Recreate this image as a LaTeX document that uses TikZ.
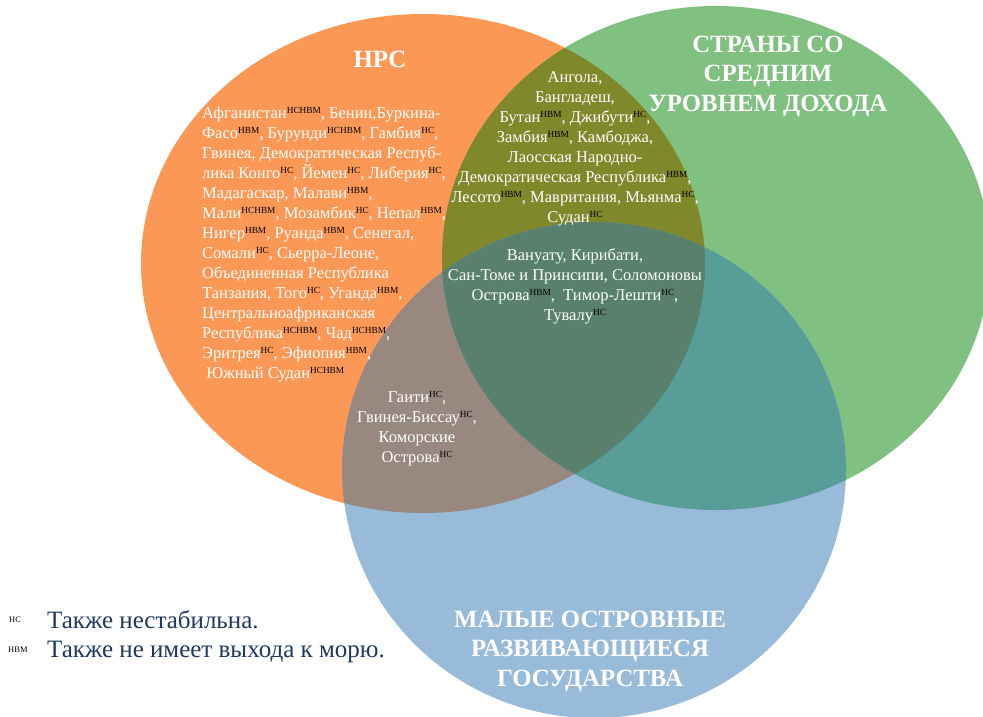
\documentclass[tikz,border=0pt]{standalone}
\usepackage{fontspec}
\setmainfont{Liberation Serif}
\definecolor{cOr}{RGB}{252,152,86}
\definecolor{cGr}{RGB}{128,192,128}
\definecolor{cBl}{RGB}{153,187,218}
\definecolor{cOG}{RGB}{128,136,44}
\definecolor{cOB}{RGB}{152,136,128}
\definecolor{cGB}{RGB}{88,157,152}
\definecolor{cOGB}{RGB}{88,128,108}
\definecolor{cNavy}{RGB}{31,56,100}
\newcommand\supNS{\textcolor{black}{\raisebox{5.5pt}{\fontsize{9.3}{9.3}\selectfont НС}}}
\newcommand\supNVM{\textcolor{black}{\raisebox{5.5pt}{\fontsize{9.3}{9.3}\selectfont НВМ}}}
\newcommand\supNSNVM{\textcolor{black}{\raisebox{5.5pt}{\fontsize{9.3}{9.3}\selectfont НСНВМ}}}
\newcommand\ellOr{(423,263.5) ellipse [x radius=282, y radius=249.5]}
\newcommand\ellGr{(716,258) ellipse [x radius=274, y radius=252]}
\newcommand\ellBl{(594,470) ellipse [x radius=252, y radius=248]}
\tikzset{
  listtext/.style={inner sep=0pt, text=white, font=\fontsize{16.5}{20}\selectfont},
  titletext/.style={inner sep=0pt, text=white, align=center, font=\fontsize{24.8}{29.5}\selectfont\bfseries},
  legendtext/.style={inner sep=0pt, anchor=base west, text=cNavy, font=\fontsize{25}{29}\selectfont},
  legendmark/.style={inner sep=0pt, anchor=base west, text=black, font=\fontsize{8.5}{8.5}\selectfont}
}
\begin{document}
\begin{tikzpicture}[x=1pt,y=-1pt]
\useasboundingbox (0,0) rectangle (983,717);
\fill[white] (0,0) rectangle (983,717);
% base sets
\fill[cOr] \ellOr;
\fill[cGr] \ellGr;
\fill[cBl] \ellBl;
% intersections
\begin{scope}
  \clip \ellOr;
  \fill[cOG] \ellGr;
  \fill[cOB] \ellBl;
\end{scope}
\begin{scope}
  \clip \ellGr;
  \fill[cGB] \ellBl;
\end{scope}
\begin{scope}
  \clip \ellOr;
  \clip \ellGr;
  \fill[cOGB] \ellBl;
\end{scope}
% titles
\node[titletext] (tOr) at (380,59) {НРС};
\node[titletext] (tGr) at (768,76) {СТРАНЫ СО\\СРЕДНИМ\\УРОВНЕМ ДОХОДА};
\node[titletext] (tBl) at (590,651) {МАЛЫЕ ОСТРОВНЫЕ\\РАЗВИВАЮЩИЕСЯ\\ГОСУДАРСТВА};
% lists
\node[listtext, align=left, anchor=north west] (lOr) at (202,104.5) {\strut Афганистан\supNSNVM, Бенин,Буркина-\\
Фасо\supNVM, Бурунди\supNSNVM,\ Гамбия\supNS,\\
Гвинея, Демократическая Респуб-\\
лика Конго\supNS, Йемен\supNS, Либерия\supNS,\\
Мадагаскар, Малави\supNVM,\\
Мали\supNSNVM,\ Мозамбик\supNS, Непал\supNVM,\\
Нигер\supNVM, Руанда\supNVM, Сенегал,\\
Сомали\supNS, Сьерра-Леоне,\\
Объединенная Республика\\
Танзания, Того\supNS, Уганда\supNVM,\\
Центральноафриканская\\
Республика\supNSNVM, Чад\supNSNVM,\\
Эритрея\supNS, Эфиопия\supNVM,\\
\ Южный Судан\supNSNVM};
\node[listtext, align=center, anchor=north] (lOG) at (575,68.5) {\strut Ангола,\\
Бангладеш,\\
Бутан\supNVM, Джибути\supNS,\\
Замбия\supNVM,\ Камбоджа,\\
Лаосская Народно-\\
Демократическая Республика\supNVM,\\
Лесото\supNVM, Мавритания, Мьянма\supNS,\\
Судан\supNS};
\node[listtext, align=center, anchor=north] (lOGB) at (575,246.5) {\strut Вануату, Кирибати,\\
Сан-Томе и Принсипи, Соломоновы\\
Острова\supNVM,\ \ Тимор-Лешти\supNS,\\
Тувалу\supNS};
\node[listtext, align=center, anchor=north] (lOB) at (417,388.5) {\strut Гаити\supNS,\\
Гвинея-Биссау\supNS,\\
Коморские\\
Острова\supNS};
% legend
\node[legendmark] (mNS) at (9,622) {НС};
\node[legendmark] (mNVM) at (8,652) {НВМ};
\node[legendtext] (lgNS) at (47,628) {Также нестабильна.};
\node[legendtext] (lgNVM) at (47,657) {Также не имеет выхода к морю.};
\end{tikzpicture}
\end{document}
